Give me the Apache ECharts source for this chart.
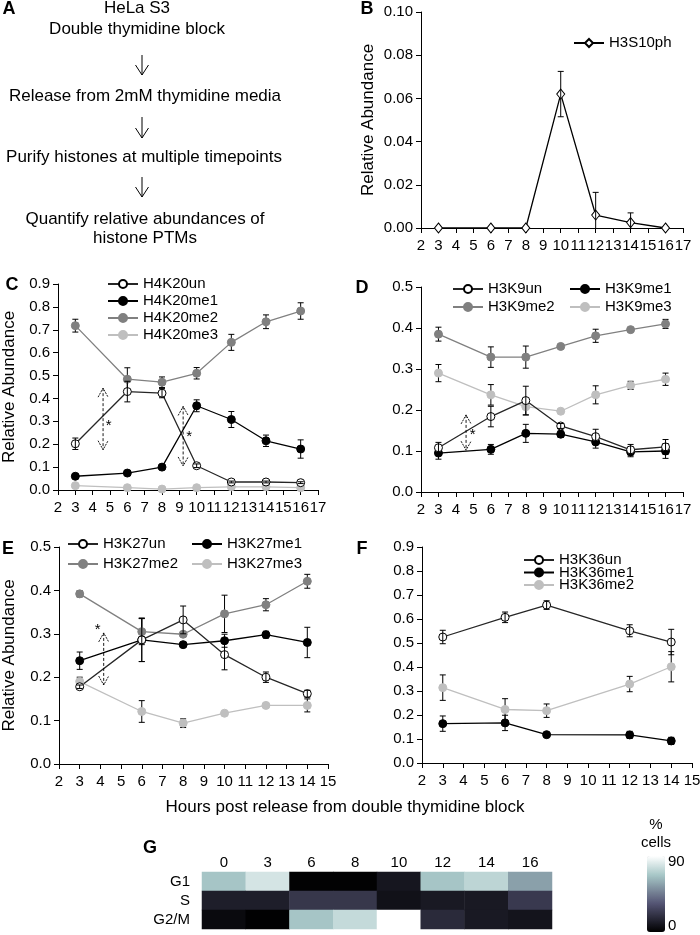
<!DOCTYPE html>
<html><head><meta charset="utf-8">
<script src="https://cdn.jsdelivr.net/npm/echarts@6/dist/echarts.min.js"></script>
<style>html,body{margin:0;padding:0;background:#fff}#c{width:700px;height:935px}</style>
</head><body><div id="c"></div>
<script>
// ---------------- DATA ----------------
const flowSteps = ['HeLa S3', 'Double thymidine block', 'Release from 2mM thymidine media',
  'Purify histones at multiple timepoints', 'Quantify relative abundances of', 'histone PTMs'];

const hoursBCD = [3, 6, 8, 10, 12, 14, 16];
const hoursE = [3, 6, 8, 10, 12, 14];
const hoursF = [3, 6, 8, 12, 14];

// Panel B
const h3s10ph = [0, 0, 0, 0.062, 0.006, 0.0025, 0];
const h3s10phErr = [0, 0, 0, 0.0105, 0.0105, 0.0045, 0];

// Panel C
const h4k20un = [0.202, 0.430, 0.423, 0.106, 0.035, 0.035, 0.032];
const h4k20unErr = [0.025, 0.045, 0.020, 0.008, 0.004, 0.004, 0.004];
const h4k20me1 = [0.060, 0.074, 0.100, 0.368, 0.308, 0.215, 0.179];
const h4k20me1Err = [0.004, 0.004, 0.004, 0.026, 0.035, 0.025, 0.040];
const h4k20me2 = [0.718, 0.484, 0.471, 0.510, 0.645, 0.735, 0.782];
const h4k20me2Err = [0.028, 0.050, 0.023, 0.025, 0.035, 0.030, 0.036];
const h4k20me3 = [0.019, 0.010, 0.004, 0.010, 0.014, 0.014, 0.010];
const h4k20me3Err = [0.003, 0.003, 0.003, 0.003, 0.003, 0.003, 0.003];

// Panel D
const h3k9un = [0.108, 0.184, 0.223, 0.161, 0.135, 0.103, 0.110];
const h3k9unErr = [0.013, 0.025, 0.035, 0.006, 0.018, 0.013, 0.018];
const h3k9me1 = [0.095, 0.104, 0.143, 0.141, 0.122, 0.098, 0.100];
const h3k9me1Err = [0.015, 0.012, 0.022, 0.008, 0.015, 0.012, 0.018];
const h3k9me2 = [0.385, 0.329, 0.329, 0.355, 0.381, 0.396, 0.410];
const h3k9me2Err = [0.017, 0.025, 0.027, 0.004, 0.016, 0.004, 0.011];
const h3k9me3 = [0.290, 0.237, 0.208, 0.197, 0.237, 0.260, 0.275];
const h3k9me3Err = [0.021, 0.025, 0.020, 0.004, 0.022, 0.010, 0.015];

// Panel E
const h3k27un = [0.178, 0.286, 0.332, 0.252, 0.200, 0.162];
const h3k27unErr = [0.004, 0.050, 0.032, 0.035, 0.012, 0.008];
const h3k27me1 = [0.238, 0.286, 0.275, 0.284, 0.298, 0.280];
const h3k27me1Err = [0.020, 0.050, 0.005, 0.015, 0.008, 0.035];
const h3k27me2 = [0.392, 0.305, 0.299, 0.346, 0.367, 0.421];
const h3k27me2Err = [0.007, 0.030, 0.005, 0.043, 0.014, 0.016];
const h3k27me3 = [0.190, 0.121, 0.094, 0.117, 0.135, 0.135];
const h3k27me3Err = [0.010, 0.025, 0.010, 0.004, 0.004, 0.015];

// Panel F
const h3k36un = [0.525, 0.607, 0.658, 0.551, 0.504];
const h3k36unErr = [0.028, 0.022, 0.018, 0.025, 0.053];
const h3k36me1 = [0.164, 0.167, 0.118, 0.117, 0.092];
const h3k36me1Err = [0.032, 0.032, 0.005, 0.015, 0.015];
const h3k36me2 = [0.314, 0.223, 0.218, 0.329, 0.401];
const h3k36me2Err = [0.053, 0.045, 0.028, 0.032, 0.063];

// significance arrows: [x, yTop, yBottom, starX, starY]
const arrowsC = [[4.6, 0.445, 0.176, 4.93, 0.28], [9.22, 0.365, 0.105, 9.57, 0.234]];
const arrowsD = [[4.58, 0.188, 0.102, 4.96, 0.139]];
const arrowsE = [[4.16, 0.302, 0.182, 3.87, 0.31]];

// Panel G (cell cycle phase %)
const timepoints = ['0', '3', '6', '8', '10', '12', '14', '16'];
const phases = ['G1', 'S', 'G2/M'];
const g1Pct = [67, 79, 1, 1, 9, 67, 73, 56];
const sPct = [12, 12, 22, 22, 7, 10, 10, 23];
const g2mPct = [4, 0.5, 67, 75, 90, 17, 10, 8];
const pctMin = 0, pctMax = 90;

// ---------------- CHART ----------------
const FF = '"Liberation Sans", Arial, Helvetica, sans-serif';
const chart = echarts.init(document.getElementById('c'), null, {renderer: 'canvas'});

const STY = {
  un:  {line: '#262626', fill: '#ffffff', border: '#000000'},
  me1: {line: '#000000', fill: '#000000', border: '#000000'},
  me2: {line: '#808080', fill: '#808080', border: '#808080'},
  me3: {line: '#bfbfbf', fill: '#bfbfbf', border: '#bfbfbf'},
  dia: {line: '#000000', fill: '#ffffff', border: '#000000'}
};

const grids = [
  {left: 421, top: 12, width: 262, height: 216},   // B
  {left: 58, top: 284, width: 260, height: 206},   // C
  {left: 421, top: 287, width: 262, height: 205},  // D
  {left: 59, top: 547, width: 269, height: 217},   // E
  {left: 422, top: 547, width: 270, height: 216},  // F
  {left: 202, top: 872, width: 350, height: 57}    // G
].map(g => Object.assign({outerBoundsMode: 'none', containLabel: false}, g));

const axisCommon = {
  axisLine: {lineStyle: {color: '#000', width: 1}},
  axisTick: {length: 5, lineStyle: {color: '#000', width: 1}},
  splitLine: {show: false},
  axisLabel: {fontSize: 15, color: '#000', fontFamily: FF}
};
function xAx(gi, min, max) {
  return Object.assign({}, axisCommon, {
    gridIndex: gi, type: 'value', min: min, max: max, interval: 1,
    axisLabel: Object.assign({}, axisCommon.axisLabel, {margin: 10})
  });
}
function yAx(gi, max, interval, digits, title, gap) {
  const a = Object.assign({}, axisCommon, {
    gridIndex: gi, type: 'value', min: 0, max: max, interval: interval,
    axisLabel: Object.assign({}, axisCommon.axisLabel, {margin: 8, formatter: v => v.toFixed(digits)})
  });
  if (title) {
    Object.assign(a, {name: title, nameLocation: 'middle', nameRotate: 90, nameGap: gap,
      nameTextStyle: {fontSize: 17, color: '#000', fontFamily: FF}});
  }
  return a;
}

const xAxes = [xAx(0, 2, 17), xAx(1, 2, 17), xAx(2, 2, 17), xAx(3, 2, 15), xAx(4, 2, 15),
  {gridIndex: 5, type: 'category', data: timepoints, position: 'top',
   axisLine: {show: false}, axisTick: {show: false}, splitLine: {show: false},
   axisLabel: {fontSize: 15, color: '#000', fontFamily: FF, margin: 2, interval: 0}}];
const yAxes = [yAx(0, 0.1, 0.02, 2, 'Relative Abundance', 44),
  yAx(1, 0.9, 0.1, 1, 'Relative Abundance', 40),
  yAx(2, 0.5, 0.1, 1, null, 0),
  yAx(3, 0.5, 0.1, 1, 'Relative Abundance', 41),
  yAx(4, 0.9, 0.1, 1, null, 0),
  {gridIndex: 5, type: 'category', data: phases, inverse: true,
   axisLine: {show: false}, axisTick: {show: false}, splitLine: {show: false},
   axisLabel: {fontSize: 15, color: '#000', fontFamily: FF, margin: 12, interval: 0}}];

const series = [];
function addLine(name, hours, vals, errs, gi, sty, symbol) {
  const s = STY[sty];
  const pts = hours.map((h, i) => [h, vals[i], errs[i]]);
  series.push({
    type: 'custom', xAxisIndex: gi, yAxisIndex: gi, clip: true, silent: true,
    z: (sty === 'un' || sty === 'dia') ? 5 : 1,
    data: pts,
    renderItem: function (params, api) {
      const x = api.value(0), y = api.value(1), e = api.value(2);
      if (!(e > 0)) return null;
      const hi = y + e, lo = Math.max(y - e, 0);
      const p1 = api.coord([x, hi]), p2 = api.coord([x, lo]);
      const c = 3, st = {stroke: '#000', lineWidth: 1};
      const ch = [
        {type: 'line', shape: {x1: p1[0], y1: p1[1], x2: p2[0], y2: p2[1]}, style: st},
        {type: 'line', shape: {x1: p1[0] - c, y1: p1[1], x2: p1[0] + c, y2: p1[1]}, style: st}
      ];
      if (y - e >= 0) ch.push({type: 'line', shape: {x1: p2[0] - c, y1: p2[1], x2: p2[0] + c, y2: p2[1]}, style: st});
      return {type: 'group', children: ch};
    }
  });
  series.push({
    type: 'line', name: name, xAxisIndex: gi, yAxisIndex: gi, z: 3,
    data: pts.map(p => [p[0], p[1]]),
    symbol: symbol || 'circle', symbolSize: symbol === 'diamond' ? [8, 10] : 8,
    showAllSymbol: true,
    lineStyle: {color: s.line, width: 1.3},
    itemStyle: {color: s.fill, borderColor: s.border, borderWidth: 1},
    emphasis: {disabled: true}
  });
}
function addArrows(data, gi) {
  series.push({
    type: 'custom', xAxisIndex: gi, yAxisIndex: gi, silent: true, z: 6,
    data: data,
    renderItem: function (params, api) {
      const t = api.coord([api.value(0), api.value(1)]);
      const b = api.coord([api.value(0), api.value(2)]);
      const s = api.coord([api.value(3), api.value(4)]);
      const st = {stroke: '#000', lineWidth: 0.9, fill: null};
      return {type: 'group', children: [
        {type: 'line', shape: {x1: t[0], y1: t[1], x2: b[0], y2: b[1]}, style: Object.assign({lineDash: [3, 2]}, st)},
        {type: 'polyline', shape: {points: [[t[0] - 5, t[1] + 9], [t[0], t[1]], [t[0] + 5, t[1] + 9]]}, style: Object.assign({lineDash: [2, 1]}, st)},
        {type: 'polyline', shape: {points: [[b[0] - 5, b[1] - 9], [b[0], b[1]], [b[0] + 5, b[1] - 9]]}, style: Object.assign({lineDash: [2, 1]}, st)},
        {type: 'text', x: s[0], y: s[1], style: {text: '*', fontSize: 15, fontFamily: FF, fill: '#000', align: 'center', verticalAlign: 'middle'}}
      ]};
    }
  });
}

addLine('H3S10ph', hoursBCD, h3s10ph, h3s10phErr, 0, 'dia', 'diamond');

addLine('H4K20me3', hoursBCD, h4k20me3, h4k20me3Err, 1, 'me3');
addLine('H4K20me2', hoursBCD, h4k20me2, h4k20me2Err, 1, 'me2');
addLine('H4K20me1', hoursBCD, h4k20me1, h4k20me1Err, 1, 'me1');
addLine('H4K20un', hoursBCD, h4k20un, h4k20unErr, 1, 'un');
addArrows(arrowsC, 1);

addLine('H3K9me3', hoursBCD, h3k9me3, h3k9me3Err, 2, 'me3');
addLine('H3K9me2', hoursBCD, h3k9me2, h3k9me2Err, 2, 'me2');
addLine('H3K9me1', hoursBCD, h3k9me1, h3k9me1Err, 2, 'me1');
addLine('H3K9un', hoursBCD, h3k9un, h3k9unErr, 2, 'un');
addArrows(arrowsD, 2);

addLine('H3K27me3', hoursE, h3k27me3, h3k27me3Err, 3, 'me3');
addLine('H3K27me2', hoursE, h3k27me2, h3k27me2Err, 3, 'me2');
addLine('H3K27me1', hoursE, h3k27me1, h3k27me1Err, 3, 'me1');
addLine('H3K27un', hoursE, h3k27un, h3k27unErr, 3, 'un');
addArrows(arrowsE, 3);

addLine('H3K36me2', hoursF, h3k36me2, h3k36me2Err, 4, 'me3');
addLine('H3K36me1', hoursF, h3k36me1, h3k36me1Err, 4, 'me1');
addLine('H3K36un', hoursF, h3k36un, h3k36unErr, 4, 'un');

const heatData = [];
[g1Pct, sPct, g2mPct].forEach((row, r) => row.forEach((v, c) => heatData.push([c, r, v])));
const heatIndex = series.length;
series.push({type: 'heatmap', xAxisIndex: 5, yAxisIndex: 5, data: heatData, silent: true,
  itemStyle: {borderWidth: 0}, emphasis: {disabled: true}});

// legends, one per item for exact placement
function leg(name, x, cy) {
  return {data: [name], left: x, top: cy - 7.5, padding: 0, itemGap: 0, itemWidth: 30, itemHeight: 10,
    selectedMode: false, textStyle: {fontSize: 15, color: '#000', fontFamily: FF, lineHeight: 15}};
}
const legends = [
  leg('H3S10ph', 573, 43),
  leg('H4K20un', 107, 284), leg('H4K20me1', 107, 301), leg('H4K20me2', 107, 318), leg('H4K20me3', 107, 335),
  leg('H3K9un', 452, 289), leg('H3K9me1', 569, 289), leg('H3K9me2', 452, 307), leg('H3K9me3', 569, 307),
  leg('H3K27un', 67, 544), leg('H3K27me1', 191, 544), leg('H3K27me2', 67, 564), leg('H3K27me3', 191, 564),
  leg('H3K36un', 523, 560), leg('H3K36me1', 523, 572.5), leg('H3K36me2', 523, 585)
];

function txt(text, x, y, size, extra) {
  return {type: 'text', x: x, y: y, silent: true, z: 10,
    style: Object.assign({text: text, fontSize: size, fontFamily: FF, fill: '#000',
      align: 'center', verticalAlign: 'middle'}, extra || {})};
}
function arrowDown(x, y1, y2) {
  return [
    {type: 'line', silent: true, shape: {x1: x, y1: y1, x2: x, y2: y2}, style: {stroke: '#000', lineWidth: 1}},
    {type: 'polyline', silent: true, shape: {points: [[x - 6.5, y2 - 10], [x, y2], [x + 6.5, y2 - 10]]}, style: {stroke: '#000', lineWidth: 1, fill: null}}
  ];
}
const bold = {fontWeight: 'bold'};
const graphics = [
  txt('A', 9, 9, 18, bold), txt('B', 367, 9, 18, bold), txt('C', 12, 285, 18, bold),
  txt('D', 362, 288, 18, bold), txt('E', 8, 549, 18, bold), txt('F', 362, 549, 18, bold),
  txt('G', 150, 848, 18, bold),
  txt(flowSteps[0], 137, 8, 17), txt(flowSteps[1], 137, 29, 17),
  txt(flowSteps[2], 145, 96, 17), txt(flowSteps[3], 144, 157, 17),
  txt(flowSteps[4], 145, 219, 17), txt(flowSteps[5], 145, 238, 17),
  ...arrowDown(142, 55, 75), ...arrowDown(142, 117, 138), ...arrowDown(142, 177, 197),
  txt('Hours post release from double thymidine block', 345, 807, 17),
  txt('%', 656, 825, 15), txt('cells', 656, 843, 15),
  txt(String(pctMax), 668, 862, 15, {align: 'left'}), txt(String(pctMin), 668, 926, 15, {align: 'left'})
];

const boneColors = ['#000000', '#1c1c27', '#38384d', '#545474', '#707a8f', '#8ba1ab', '#a7c7c7', '#d3e3e3', '#ffffff'];

chart.setOption({
  animation: false,
  backgroundColor: '#ffffff',
  textStyle: {fontFamily: FF},
  grid: grids,
  xAxis: xAxes,
  yAxis: yAxes,
  legend: legends,
  series: series,
  visualMap: {type: 'continuous', min: pctMin, max: pctMax, seriesIndex: heatIndex, dimension: 2,
    orient: 'vertical', left: 647, top: 856, itemWidth: 18, itemHeight: 76, padding: 0,
    calculable: false, realtime: false, hoverLink: false, text: null, showLabel: false,
    inRange: {color: boneColors}},
  graphic: graphics
});
</script>
</body></html>
